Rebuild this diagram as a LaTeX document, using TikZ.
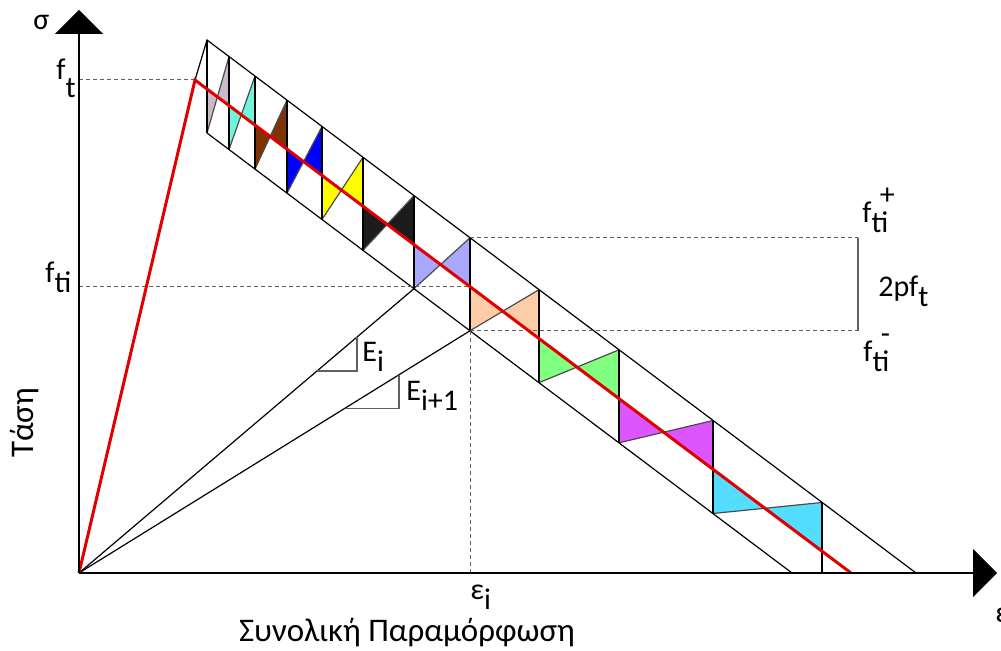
\documentclass[tikz,border=0pt]{standalone}
\usepackage{fontspec}
\setmainfont{Carlito}
\usetikzlibrary{arrows.meta,calc}
\definecolor{curve}{HTML}{E00000}
\definecolor{guideg}{HTML}{606060}
\definecolor{cA}{HTML}{C9B9C9}
\definecolor{cB}{HTML}{6EF5DC}
\definecolor{cC}{HTML}{7F3300}
\definecolor{cD}{HTML}{0000FF}
\definecolor{cE}{HTML}{FFFF00}
\definecolor{cF}{HTML}{1C1C1C}
\definecolor{cG}{HTML}{A8A8FF}
\definecolor{cH}{HTML}{FFCCA8}
\definecolor{cI}{HTML}{80FF80}
\definecolor{cJ}{HTML}{DD55FF}
\definecolor{cK}{HTML}{55DDFF}
% lowered index, same size as the letter
\newcommand{\lsub}[2]{#1\raisebox{-0.32em}{#2}}
\newcommand{\fti}[1]{f\raisebox{-0.32em}{\makebox[0pt][l]{\hspace{0.28em}\raisebox{0.95em}{#1}}ti}}

\begin{document}
\begin{tikzpicture}[x=0.5pt,y=-0.5pt,>={Triangle[width=24pt,length=12pt]},
    thin line/.style={black,line width=0.6pt},
    guide/.style={guideg,line width=0.5pt,dash pattern=on 2pt off 1.5pt},
    lbl/.style={inner sep=0pt,font=\fontsize{15}{18}\selectfont},
    title/.style={inner sep=0pt,font=\fontsize{16.5}{20}\selectfont}]
  \useasboundingbox (0,0) rectangle (1001,651);
  \coordinate (O) at (79,573);
  \coordinate (peak) at (195,80);
  \coordinate (top) at (207,40);
  \coordinate (uend) at (916,573);
  \coordinate (lend) at (792,573);
  \coordinate (rend) at (851,573);
  \coordinate (bt) at (858,238);
  \coordinate (bb) at (858,331);

  % cell walls on the band
  \foreach \x [count=\i] in {207,229,255,287,322,363,414,470,539,619,713,822} {
    \coordinate (u\i) at (\x,{40+0.752*(\x-207)});
    \coordinate (r\i) at (\x,{89+0.752*(\x-207)});
    \coordinate (l\i) at (\x,{133+0.752*(\x-207)});
  }

  % bow ties
  \foreach \c [count=\i, evaluate=\i as \j using int(\i+1)] in {cA,cB,cC,cD,cE,cF,cG,cH,cI,cJ,cK} {
    \coordinate (m\i) at ($(l\i)!0.473!(u\j)$);
    \fill[\c] (r\i) -- (l\i) -- (m\i) -- cycle;
    \fill[\c] (u\j) -- (r\j) -- (m\i) -- cycle;
    \draw[thin line,black!70] (l\i) -- (u\j);
  }
  \foreach \i in {1,...,11}
    \draw[thin line] (u\i) -- (l\i);
  \draw[thin line] (u12) -- (u12 |- O);
  \draw[thin line] (peak) -- (top) -- (uend);
  \draw[thin line] (l1) -- (lend);

  % guides
  \draw[guide] (O |- peak) -- (peak);
  \draw[guide] (O |- r8) -- (r8);
  \draw[guide] (u8) -- (u8 -| bt);
  \draw[guide] (l8) -- (l8 -| bt);
  \draw[guide] (l8) -- (l8 |- O);
  \draw[guideg,line width=1pt] (bt) -- (bb);

  % secant moduli
  \draw[thin line] (O) -- (l7);
  \draw[thin line] (O) -- (l8);
  \draw[guideg,line width=0.7pt] ($(O)!0.71!(l7)$) -| ($(O)!0.83!(l7)$);
  \draw[guideg,line width=0.7pt] ($(O)!0.68!(l8)$) -| ($(O)!0.818!(l8)$);

  \draw[curve,line width=1.5pt] (O) -- (peak) -- (rend);

  % axes
  \draw[thin line,->] (O) -- (79,10);
  \draw[thin line,->] (O) -- (997,573);

  \node[lbl,anchor=base west] (sig) at (33,30) {σ};
  \node[lbl,anchor=base west] (eps) at (995,623) {ε};
  \node[lbl,anchor=base west] (ft) at (56,80) {f\raisebox{-0.6em}{t}};
  \node[lbl,anchor=base west] (fti) at (45,283) {\lsub{f}{ti}};
  \node[lbl,anchor=base west] (ftip) at (862,223) {\fti{+}};
  \node[lbl,anchor=base west] (ftim) at (863,362) {\fti{-}};
  \node[lbl,anchor=base west] (pf) at (878,297) {\lsub{2pf}{t}};
  \node[lbl,anchor=base west] (Ei) at (362,362) {\lsub{E}{i}};
  \node[lbl,anchor=base west] (Ej) at (406,401) {\lsub{E}{i+1}};
  \node[lbl,anchor=base west] (epsi) at (470,600) {\lsub{ε}{i}};
  \node[title,rotate=90] (tasi) at (25,423) {Τάση};
  \node[title] (xlab) at (407,633) {Συνολική Παραμόρφωση};
\end{tikzpicture}
\end{document}
